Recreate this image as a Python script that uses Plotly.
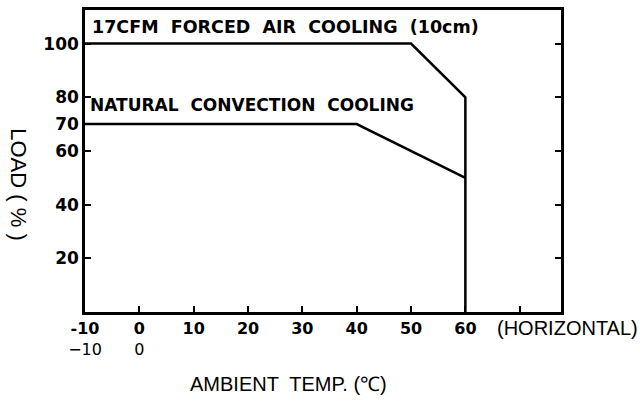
import plotly.graph_objects as go

forced_x = [-10, 50, 60, 60]
forced_y = [100, 100, 80, 0]
natural_x = [-10, 40, 60]
natural_y = [70, 70, 50]

x_ticks = [-10, 0, 10, 20, 30, 40, 50, 60, 70]
x_labels = ["<b>-10</b><br>−10", "<b>0</b><br>0", "<b>10</b>", "<b>20</b>", "<b>30</b>",
            "<b>40</b>", "<b>50</b>", "<b>60</b>", ""]
y_ticks = [20, 40, 60, 70, 80, 100]
y_labels = ["<b>20</b>", "<b>40</b>", "<b>60</b>", "<b>70</b>", "<b>80</b>", "<b>100</b>"]
y_right_ticks = [20, 40, 60, 80, 100]

fig = go.Figure()
fig.add_trace(go.Scatter(x=forced_x, y=forced_y, mode="lines",
                         line=dict(color="black", width=2.5), showlegend=False))
fig.add_trace(go.Scatter(x=natural_x, y=natural_y, mode="lines",
                         line=dict(color="black", width=2.5), showlegend=False))
fig.add_trace(go.Scatter(x=[None], y=[None], yaxis="y2", showlegend=False))

W, H = 640, 402
L, R, T, B = 85, 79, 7, 90
pw, ph = W - L - R, H - T - B

def px(x):
    return (x - L) / pw

def py(y):
    return 1 - (y - T) / ph

fig.update_layout(
    width=W, height=H,
    margin=dict(l=L, r=R, t=T, b=B),
    plot_bgcolor="white", paper_bgcolor="white",
    font=dict(family="DejaVu Sans", color="black"),
    xaxis=dict(range=[-10, 77.6], tickvals=x_ticks, ticktext=x_labels,
               ticks="inside", ticklen=6, tickwidth=2, tickcolor="black",
               showline=True, linewidth=2.5, linecolor="black", mirror=True,
               showgrid=False, zeroline=False,
               tickfont=dict(size=16, family="DejaVu Sans")),
    yaxis=dict(range=[0, 112.5], tickvals=y_ticks, ticktext=y_labels,
               ticks="inside", ticklen=6, tickwidth=2, tickcolor="black",
               showline=True, linewidth=2.5, linecolor="black", mirror=True,
               showgrid=False, zeroline=False,
               tickfont=dict(size=17, family="DejaVu Sans")),
    yaxis2=dict(range=[0, 112.5], overlaying="y", side="right", tickvals=y_right_ticks,
                showticklabels=False, ticks="inside", ticklen=6, tickwidth=2,
                tickcolor="black", showgrid=False, zeroline=False, showline=False),
    annotations=[
        dict(text="<b>17CFM  FORCED  AIR  COOLING  (10cm)</b>", x=-9, y=106.3, xref="x", yref="y",
             xanchor="left", yanchor="middle", showarrow=False,
             font=dict(size=17.5, family="DejaVu Sans", color="black")),
        dict(text="<b>NATURAL  CONVECTION  COOLING</b>", x=-9.5, y=77, xref="x", yref="y",
             xanchor="left", yanchor="middle", showarrow=False,
             font=dict(size=17, family="DejaVu Sans", color="black")),
        dict(text="(HORIZONTAL)", x=px(640), y=py(328), xref="paper", yref="paper",
             showarrow=False, xanchor="right", yanchor="middle",
             font=dict(size=20, family="Liberation Sans", color="black")),
        dict(text="AMBIENT  TEMP. (℃)", x=px(288), y=py(385), xref="paper", yref="paper",
             showarrow=False, xanchor="center", yanchor="middle",
             font=dict(size=20, family="Liberation Sans", color="black")),
        dict(text="LOAD ( % )", x=px(19), y=py(183), xref="paper", yref="paper",
             showarrow=False, textangle=90, xanchor="center", yanchor="middle",
             font=dict(size=22, family="Liberation Sans", color="black")),
    ],
)

fig.write_html("out.html", config={"displayModeBar": False},
               post_script="document.body.style.margin='0';document.body.style.padding='0';")
